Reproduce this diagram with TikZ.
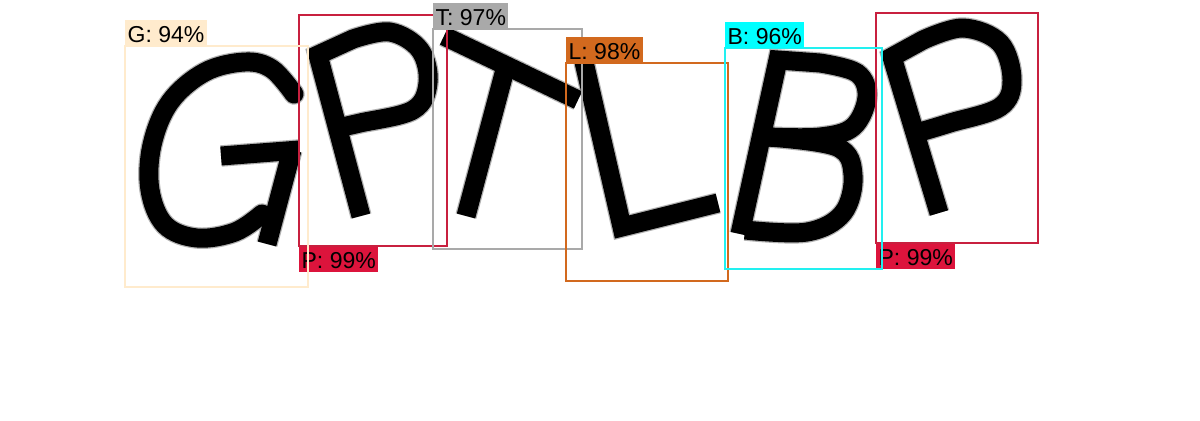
\documentclass[tikz,border=0pt]{standalone}
\usepackage{fontspec}
\setmainfont{Liberation Sans}
\begin{document}
\begin{tikzpicture}[x=0.02cm,y=-0.02cm,
  glyph/.style={line width=10.8pt,black,line cap=butt,line join=miter},
  halo/.style={line width=12.2pt,black!30,line cap=butt,line join=miter},
  bbox/.style={line width=1.13pt},
  lab/.style={inner xsep=1.3pt,inner ysep=0pt,text height=12.6pt,text depth=1.8pt,
    font=\fontsize{13.1pt}{14pt}\selectfont,text=black}]
\definecolor{cG}{HTML}{FFEBCD}
\definecolor{cP}{HTML}{DC143C}
\definecolor{cPb}{HTML}{C8203F}
\definecolor{cT}{HTML}{A9A9A9}
\definecolor{cL}{HTML}{D2691E}
\definecolor{cB}{HTML}{00FFFF}
\definecolor{cBb}{HTML}{22F0F0}
\useasboundingbox[fill=white] (0,0) rectangle (1200,420);
% ---------- letters ----------
\foreach \st in {halo,glyph}{
  % G
  \draw[\st,line cap=round] plot[smooth,tension=0.6] coordinates {(294,94) (272,69) (245,62) (205,72) (170,102) (152,145) (150,190) (165,225) (197,238) (235,232) (262,214)};
  \draw[\st] (267,244) -- (292,150);
  \draw[\st] (221,156) -- (299,150);
  % P1
  \draw[\st] (361,216) -- (318,55) -- plot[smooth,tension=0.6] coordinates {(353,39) (390,32) (420,50) (428,83) (413,110) (360,123) (337,128)};
  % T
  \draw[\st] (444,36) -- (578,100);
  \draw[\st] (506,66) -- (466,216);
  % L
  \draw[\st] (584,62) -- (622,227) -- (718,203);
  % B
  \draw[\st] (740,234) -- (778,60) -- plot[smooth,tension=0.6] coordinates {(820,63) (857,73) (867,97) (853,127) (820,137) (768,137)};
  \draw[\st] plot[smooth,tension=0.6] coordinates {(768,137) (837,147) (853,175) (843,213) (807,232) (745,230)};
  % P2
  \draw[\st] (939,213) -- (892,57) -- plot[smooth,tension=0.6] coordinates {(923,40) (963,28) (1000,43) (1012,80) (1000,107) (950,123) (920,132)};
}
% ---------- label backgrounds / boxes ----------
\coordinate (gNW) at (125,46);  \coordinate (gSE) at (308,287);
\coordinate (p1NW) at (299,15); \coordinate (p1SE) at (447,246);
\coordinate (tNW) at (433,29);  \coordinate (tSE) at (582,249);
\coordinate (lNW) at (566,63);  \coordinate (lSE) at (728,281);
\coordinate (bNW) at (725,48);  \coordinate (bSE) at (882,269);
\coordinate (p2NW) at (876,13); \coordinate (p2SE) at (1038,243);
\node[lab,fill=cP,anchor=north west] (labP1) at (p1NW |- p1SE) {P: 99\%};
\node[lab,fill=cP,anchor=north west] (labP2) at (p2NW |- p2SE) {P: 99\%};
\draw[bbox,draw=cPb] (p1NW) rectangle (p1SE);
\draw[bbox,draw=cT] (tNW) rectangle (tSE);
\draw[bbox,draw=cG] (gNW) rectangle (gSE);
\draw[bbox,draw=cL] (lNW) rectangle (lSE);
\draw[bbox,draw=cPb] (p2NW) rectangle (p2SE);
\draw[bbox,draw=cBb] (bNW) rectangle (bSE);
\node[lab,fill=cG,anchor=south west] (labG) at (gNW) {G: 94\%};
\node[lab,fill=cT,anchor=south west] (labT) at (tNW) {T: 97\%};
\node[lab,fill=cL,anchor=south west] (labL) at (lNW) {L: 98\%};
\node[lab,fill=cB,anchor=south west] (labB) at (bNW) {B: 96\%};
\end{tikzpicture}
\end{document}
